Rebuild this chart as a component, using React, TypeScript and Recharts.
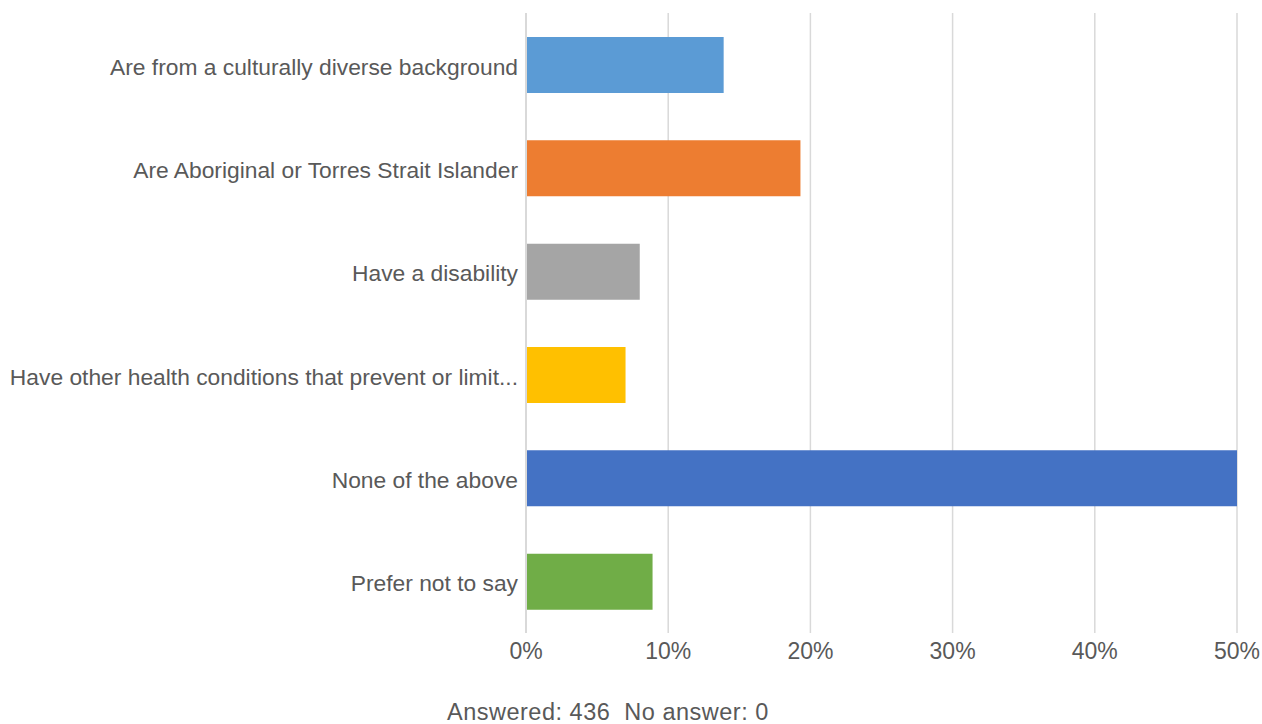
import React from 'react';
import { BarChart, Bar, XAxis, YAxis, CartesianGrid, Cell } from 'recharts';

const categories = [
  'Are from a culturally diverse background',
  'Are Aboriginal or Torres Strait Islander',
  'Have a disability',
  'Have other health conditions that prevent or limit...',
  'None of the above',
  'Prefer not to say',
];
const percentages = [13.9, 19.3, 8.0, 7.0, 50.0, 8.9];
const barColors = ['#5B9BD5', '#ED7D31', '#A5A5A5', '#FFC000', '#4472C4', '#70AD47'];
const xTicks = [0, 10, 20, 30, 40, 50];
const footnote = 'Answered: 436  No answer: 0';

const data = categories.map((name, i) => ({ name, value: percentages[i] }));

const FONT = '"Liberation Sans", Arial, sans-serif';
const TEXT = '#595959';

export default function App() {
  return (
    <div style={{ position: 'absolute', left: 0, top: 0, width: 1262, height: 724, background: '#fff' }}>
      <BarChart
        width={1262}
        height={724}
        data={data}
        layout="vertical"
        margin={{ top: 13, right: 25, bottom: 0, left: 0 }}
      >
        <CartesianGrid horizontal={false} stroke="#d9d9d9" strokeWidth={1.5} />
        <XAxis
          type="number"
          domain={[0, 50]}
          ticks={xTicks}
          tickFormatter={(v: number) => `${v}%`}
          axisLine={false}
          tickLine={false}
          tickSize={0}
          tickMargin={10}
          height={91}
          interval={0}
          tick={{ fill: TEXT, fontSize: 23, fontFamily: FONT }}
        />
        <YAxis
          type="category"
          dataKey="name"
          width={526}
          axisLine={{ stroke: '#d9d9d9', strokeWidth: 2 }}
          tickLine={false}
          tickSize={0}
          tickMargin={8}
          interval={0}
          tick={{ fill: TEXT, fontSize: 22.8, fontFamily: FONT, dy: 2 }}
        />
        <Bar dataKey="value" barSize={56} isAnimationActive={false}>
          {data.map((d, i) => (
            <Cell key={d.name} fill={barColors[i]} />
          ))}
        </Bar>
      </BarChart>
      <div
        style={{
          position: 'absolute',
          left: 447,
          top: 699,
          fontFamily: FONT,
          fontSize: 23.5,
          letterSpacing: '0.5px',
          color: TEXT,
          whiteSpace: 'pre',
          lineHeight: '26px',
        }}
      >
        {footnote}
      </div>
    </div>
  );
}
